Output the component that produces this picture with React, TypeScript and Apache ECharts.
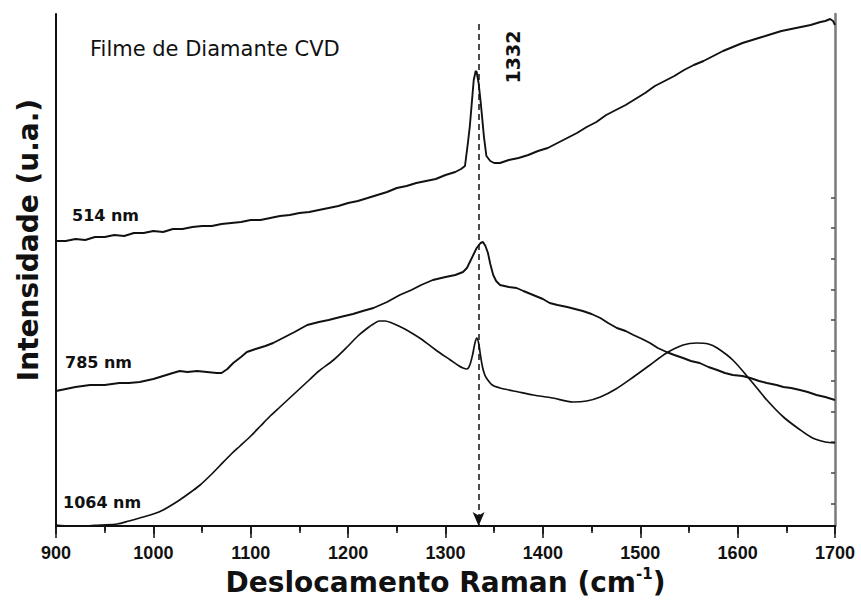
import React, { useEffect, useRef } from "react";
import * as echarts from "echarts";

// Raman shift (cm-1) axis
const xMin = 900;
const xMax = 1700;
const xStep = 100;
const peakLine = 1334;
const peakLabel = "1332";

// intensity in arbitrary units (0 = bottom of frame)
const yMax = 512;
const rightTicks = [22, 53, 84, 114, 145, 175, 206, 236, 267, 298, 328];

const labels = ["514 nm", "785 nm", "1064 nm"];

const s514: [number, number][] = [
  [900, 285], [910, 285], [920, 287], [930, 286], [940, 289], [950, 289], [960, 291], [970, 290],
  [980, 293], [990, 293], [1000, 295], [1010, 294], [1020, 297], [1030, 297], [1040, 299], [1050, 300],
  [1060, 300], [1070, 302], [1080, 303], [1090, 304], [1100, 306], [1110, 306], [1120, 308], [1130, 310],
  [1140, 311], [1150, 313], [1160, 314], [1170, 316], [1180, 318], [1190, 320], [1200, 323], [1210, 325],
  [1220, 328], [1230, 331], [1240, 334], [1250, 338], [1260, 340], [1270, 343], [1280, 345], [1290, 347],
  [1300, 351], [1310, 354], [1316, 357], [1320, 360], [1323, 383], [1325, 400], [1327, 423], [1329, 446],
  [1331, 455], [1332, 454], [1334, 443], [1336, 425], [1337.5, 410], [1339.5, 389], [1342, 370], [1346, 365],
  [1350, 363], [1356, 363], [1365, 366], [1375, 368], [1385, 371], [1395, 375], [1405, 378], [1415, 383],
  [1425, 388], [1435, 393], [1445, 399], [1455, 404], [1465, 411], [1475, 416], [1485, 421], [1495, 427],
  [1505, 433], [1515, 440], [1525, 445], [1535, 450], [1545, 456], [1555, 461], [1565, 465], [1575, 470],
  [1585, 475], [1595, 479], [1605, 483], [1615, 486], [1625, 489], [1635, 492], [1645, 495], [1655, 497],
  [1665, 499], [1675, 501], [1685, 504], [1690, 505], [1695, 507], [1698, 505], [1700, 501],
];

const s785: [number, number][] = [
  [900, 135], [910, 137], [920, 139], [935, 141], [950, 141], [965, 143], [975, 143], [986, 144],
  [1000, 147], [1010, 150], [1020, 153], [1027, 155], [1035, 154], [1045, 155], [1055, 154], [1065, 153],
  [1070, 153], [1076, 157], [1082, 163], [1090, 169], [1096, 174], [1105, 177], [1115, 180], [1123, 183],
  [1135, 189], [1145, 194], [1158, 201], [1170, 204], [1180, 206], [1192, 209], [1205, 212], [1215, 215],
  [1226, 218], [1240, 224], [1253, 231], [1265, 236], [1275, 241], [1287, 246], [1300, 249], [1310, 251],
  [1318, 254], [1322, 258], [1325, 264], [1329, 272], [1332, 278], [1336, 283], [1338.5, 284], [1341, 280],
  [1343.6, 273], [1346, 262], [1349, 251], [1352, 245], [1356, 241], [1365, 239], [1373, 238], [1380, 235],
  [1390, 231], [1400, 227], [1407, 223], [1415, 221], [1425, 219], [1433, 217], [1441, 215], [1450, 212],
  [1459, 208], [1467, 203], [1476, 198], [1485, 195], [1493, 191], [1502, 187], [1510, 183], [1518, 178],
  [1527, 174], [1535, 171], [1544, 168], [1552, 165], [1561, 163], [1570, 159], [1579, 156], [1587, 153],
  [1595, 151], [1605, 150], [1613, 148], [1622, 145], [1630, 143], [1640, 141], [1647, 139], [1655, 138],
  [1664, 136], [1672, 134], [1681, 131], [1690, 129], [1700, 126],
];

const s1064: [number, number][] = [
  [900, 1], [915, 0], [930, 0], [945, 1], [963, 2], [975, 5], [986, 8], [1000, 12], [1010, 16],
  [1027, 26], [1040, 35], [1048, 41], [1060, 52], [1068, 60], [1080, 72], [1089, 80], [1100, 90],
  [1110, 100], [1120, 110], [1130, 119], [1140, 128], [1150, 137], [1160, 146], [1170, 155], [1185, 166],
  [1200, 180], [1210, 190], [1220, 198], [1226, 202], [1232, 205], [1238, 205], [1245, 203], [1252, 200],
  [1260, 196], [1275, 187], [1290, 176], [1305, 166], [1314, 160], [1318, 158], [1322, 157], [1325, 161],
  [1328, 172], [1330, 182], [1332, 188], [1334, 183], [1336, 170], [1338, 159], [1340, 152], [1342, 148],
  [1348, 141], [1356, 138], [1375, 134], [1390, 131], [1410, 128], [1431, 124], [1445, 125], [1459, 129],
  [1475, 137], [1493, 149], [1510, 161], [1527, 173], [1544, 181], [1558, 183], [1570, 182], [1579, 178],
  [1595, 166], [1613, 146], [1630, 126], [1647, 109], [1663, 97], [1677, 88], [1690, 84], [1700, 83],
];

const INK = "#111111";

export default function App() {
  const ref = useRef<HTMLDivElement>(null);

  useEffect(() => {
    document.body.style.margin = "0";
    const chart = echarts.init(ref.current!, null, { renderer: "svg" });
    const lineBase = {
      type: "line",
      showSymbol: false,
      symbol: "none",
      silent: true,
      xAxisIndex: 0,
      yAxisIndex: 0,
      lineStyle: { color: INK, width: 1.9 },
    };
    chart.setOption({
      animation: false,
      backgroundColor: "#ffffff",
      grid: { left: 56, right: 26, top: 14, bottom: 81, containLabel: false },
      xAxis: [
        {
          type: "value",
          min: xMin,
          max: xMax,
          interval: xStep,
          position: "bottom",
          axisLine: { lineStyle: { color: INK, width: 2 } },
          axisTick: { show: true, length: 8, lineStyle: { color: INK, width: 1.5 } },
          minorTick: { show: true, splitNumber: 2, length: 5, lineStyle: { color: INK, width: 1.5 } },
          splitLine: { show: false },
          minorSplitLine: { show: false },
          axisLabel: {
            margin: 18,
            color: INK,
            fontFamily: "Liberation Sans",
            fontWeight: "bold",
            fontSize: 18,
            formatter: (v: number) => String(v),
          },
          name: "{t|Deslocamento Raman (cm}{s|-1}{t|)}",
          nameLocation: "middle",
          nameGap: 38,
          nameTextStyle: {
            rich: {
              t: { fontFamily: "DejaVu Sans", fontWeight: "bold", fontSize: 28, color: INK, lineHeight: 32 },
              s: { fontFamily: "DejaVu Sans", fontWeight: "bold", fontSize: 15, color: INK, verticalAlign: "top", lineHeight: 16 },
            },
          },
        },
        {
          type: "value",
          min: xMin,
          max: xMax,
          interval: xStep,
          position: "top",
          axisLine: { lineStyle: { color: INK, width: 1.5 } },
          axisTick: { show: true, inside: true, length: 12, lineStyle: { color: INK, width: 1.5 } },
          minorTick: { show: true, splitNumber: 2, length: 7, lineStyle: { color: INK, width: 1.5 } },
          splitLine: { show: false },
          minorSplitLine: { show: false },
          axisLabel: { show: false },
        },
      ],
      yAxis: [
        {
          type: "value",
          min: 0,
          max: yMax,
          position: "left",
          axisLine: { show: true, lineStyle: { color: INK, width: 2 } },
          axisTick: { show: false },
          axisLabel: { show: false },
          splitLine: { show: false },
        },
        {
          type: "value",
          min: 0,
          max: yMax,
          position: "right",
          axisLine: { show: true, lineStyle: { color: "#7a7a7a", width: 2.5 } },
          axisTick: {
            show: true,
            inside: true,
            length: 4,
            customValues: rightTicks,
            lineStyle: { color: "#444", width: 1.5 },
          },
          axisLabel: { show: false },
          splitLine: { show: false },
        },
      ],
      series: [
        { ...lineBase, name: labels[0], data: s514 },
        { ...lineBase, name: labels[1], data: s785 },
        {
          ...lineBase,
          name: labels[2],
          data: s1064,
          smooth: 0.3,
          lineStyle: { color: INK, width: 1.7 },
          markLine: {
            silent: true,
            animation: false,
            label: { show: false },
            symbolSize: [9, 14],
            lineStyle: { color: INK, width: 1.5, type: [6, 4] },
            data: [
              [
                { coord: [peakLine, 502], symbol: "none" },
                { coord: [peakLine, 0], symbol: "arrow" },
              ],
            ],
          },
        },
      ],
      graphic: [
        {
          type: "text",
          x: 28,
          y: 240,
          rotation: Math.PI / 2,
          style: {
            text: "Intensidade (u.a.)",
            font: 'bold 28px "DejaVu Sans"',
            fill: INK,
            align: "center",
            verticalAlign: "middle",
            textAlign: "center",
            textVerticalAlign: "middle",
          },
        },
        {
          type: "text",
          x: 90,
          y: 49,
          style: {
            text: "Filme de Diamante CVD",
            font: '21px "DejaVu Sans"',
            fill: INK,
            align: "left",
            verticalAlign: "middle",
            textAlign: "left",
            textVerticalAlign: "middle",
          },
        },
        {
          type: "text",
          x: 513,
          y: 57,
          rotation: Math.PI / 2,
          style: {
            text: peakLabel,
            font: 'bold 19px "DejaVu Sans"',
            fill: INK,
            align: "center",
            verticalAlign: "middle",
            textAlign: "center",
            textVerticalAlign: "middle",
          },
        },
        {
          type: "text",
          x: 72,
          y: 215,
          style: {
            text: labels[0],
            font: 'bold 16px "DejaVu Sans"',
            fill: INK,
            align: "left",
            verticalAlign: "middle",
            textAlign: "left",
            textVerticalAlign: "middle",
          },
        },
        {
          type: "text",
          x: 65,
          y: 362,
          style: {
            text: labels[1],
            font: 'bold 16px "DejaVu Sans"',
            fill: INK,
            align: "left",
            verticalAlign: "middle",
            textAlign: "left",
            textVerticalAlign: "middle",
          },
        },
        {
          type: "text",
          x: 63,
          y: 502,
          style: {
            text: labels[2],
            font: 'bold 16px "DejaVu Sans"',
            fill: INK,
            align: "left",
            verticalAlign: "middle",
            textAlign: "left",
            textVerticalAlign: "middle",
          },
        },
      ],
    });
    return () => chart.dispose();
  }, []);

  return (
    <div
      ref={ref}
      style={{ width: 861, height: 607, position: "absolute", left: 0, top: 0 }}
    />
  );
}
